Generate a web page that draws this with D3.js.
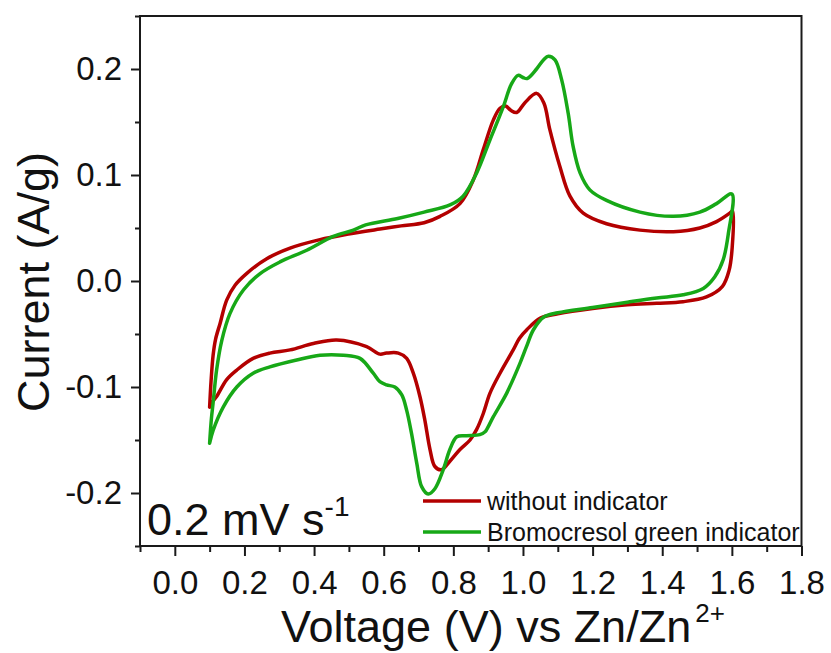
<!DOCTYPE html>
<html>
<head>
<meta charset="utf-8">
<script src="https://cdn.jsdelivr.net/npm/d3@7/dist/d3.min.js"></script>
<style>
  html, body { margin: 0; padding: 0; background: #fff; }
  svg { display: block; font-family: "Liberation Sans", Arial, sans-serif; }
</style>
</head>
<body>
<svg id="chart" width="831" height="653"></svg>
<script>
// ---- Data ----
const seriesNames = ["without indicator", "Bromocresol green indicator"];
const seriesColors = ["#b30000", "#17a817"];

// without indicator: voltage (V) and current (A/g), traced as one closed CV loop
const redV = [0.100,0.104,0.110,0.117,0.130,0.149,0.173,0.206,0.264,0.331,0.417,0.494,0.589,0.650,0.716,0.762,0.819,0.857,0.886,0.915,0.934,0.950,0.965,0.982,1.005,1.039,1.060,1.077,1.106,1.135,1.173,1.240,1.336,1.432,1.508,1.556,1.594,1.602,
  1.601,1.592,1.573,1.527,1.460,1.384,1.300,1.200,1.100,1.050,1.011,0.990,0.972,0.934,0.905,0.886,0.867,0.848,0.819,0.790,0.766,0.747,0.733,0.718,0.704,0.685,0.666,0.642,0.608,0.589,0.551,0.465,0.398,0.331,0.273,0.225,0.178,0.149,0.120,0.106,0.100];
const redI = [-0.119,-0.095,-0.070,-0.055,-0.040,-0.018,-0.004,0.007,0.021,0.031,0.039,0.044,0.049,0.052,0.055,0.061,0.073,0.095,0.124,0.152,0.163,0.165,0.161,0.159,0.168,0.177,0.168,0.143,0.108,0.080,0.064,0.054,0.048,0.0465,0.050,0.056,0.064,0.066,
  0.032,0.010,-0.005,-0.015,-0.0195,-0.021,-0.0225,-0.026,-0.031,-0.035,-0.046,-0.054,-0.065,-0.087,-0.106,-0.125,-0.140,-0.150,-0.159,-0.170,-0.178,-0.175,-0.159,-0.131,-0.109,-0.087,-0.073,-0.068,-0.068,-0.069,-0.062,-0.0557,-0.059,-0.065,-0.068,-0.073,-0.084,-0.093,-0.109,-0.115,-0.119];

// Bromocresol green indicator
const greenV = [0.100,0.105,0.110,0.120,0.135,0.158,0.197,0.245,0.302,0.379,0.455,0.513,0.548,0.640,0.716,0.792,0.828,0.867,0.905,0.943,0.967,0.986,1.000,1.012,1.039,1.060,1.073,1.092,1.111,1.130,1.144,1.164,1.192,1.240,1.336,1.432,1.508,1.556,1.600,
  1.590,1.575,1.551,1.518,1.460,1.384,1.300,1.200,1.100,1.060,1.030,1.010,0.991,0.953,0.915,0.896,0.892,0.876,0.838,0.810,0.790,0.771,0.747,0.728,0.709,0.695,0.680,0.666,0.652,0.632,0.608,0.589,0.570,0.532,0.484,0.417,0.350,0.273,0.225,0.178,0.139,0.110,0.100];
const greenI = [-0.153,-0.130,-0.115,-0.084,-0.056,-0.031,-0.0085,0.007,0.018,0.029,0.042,0.048,0.053,0.059,0.065,0.072,0.080,0.102,0.133,0.164,0.186,0.194,0.192,0.191,0.200,0.209,0.212,0.2085,0.190,0.158,0.127,0.102,0.086,0.076,0.065,0.061,0.065,0.073,0.082,
  0.045,0.020,0.004,-0.007,-0.013,-0.016,-0.020,-0.025,-0.030,-0.034,-0.046,-0.062,-0.078,-0.106,-0.128,-0.140,-0.142,-0.145,-0.146,-0.147,-0.159,-0.178,-0.196,-0.201,-0.194,-0.172,-0.144,-0.122,-0.1075,-0.100,-0.098,-0.095,-0.087,-0.073,-0.070,-0.070,-0.0745,-0.081,-0.087,-0.100,-0.119,-0.141,-0.153];

const xMajorTicks = [0.0,0.2,0.4,0.6,0.8,1.0,1.2,1.4,1.6,1.8];
const xMinorTicks = [-0.1,0.1,0.3,0.5,0.7,0.9,1.1,1.3,1.5,1.7];
const yMajorTicks = [-0.2,-0.1,0.0,0.1,0.2];
const yMinorTicks = [-0.25,-0.15,-0.05,0.05,0.15,0.25];

// ---- Layout ----
const svg = d3.select("#chart");
const L = 140, R = 801.5, T = 16, B = 546;
const x = d3.scaleLinear().domain([-0.1, 1.8]).range([L, R]);
const y = d3.scaleLinear().domain([-0.25, 0.25]).range([B, T]);
const axisColor = "#1a1a1a";
const fmt = d => d3.format(".1f")(d).replace("\u2212", "-");

// curves
const seriesData = [
  d3.zip(redV, redI),
  d3.zip(greenV, greenI)
];
const line = d3.line().x(d => x(d[0])).y(d => y(d[1])).curve(d3.curveCatmullRom.alpha(0.5));
svg.append("g").selectAll("path").data(seriesData).join("path")
  .attr("d", line)
  .attr("fill", "none")
  .attr("stroke", (d, i) => seriesColors[i])
  .attr("stroke-width", 3.5)
  .attr("stroke-linejoin", "round")
  .attr("stroke-linecap", "round");

// axes
function styleAxis(g) {
  g.select(".domain").remove();
  g.selectAll("line").attr("stroke", axisColor).attr("stroke-width", 2);
  g.selectAll("text").attr("fill", "#111").attr("font-size", "33px")
    .attr("font-family", "'Liberation Sans', Arial, sans-serif");
}
const xAxis = d3.axisBottom(x).tickValues(xMajorTicks).tickSize(10).tickPadding(15)
  .tickFormat(fmt).tickSizeOuter(0);
svg.append("g").attr("transform", `translate(0,${B})`).call(xAxis).call(styleAxis);
const xMinor = d3.axisBottom(x).tickValues(xMinorTicks).tickSize(6).tickFormat("").tickSizeOuter(0);
svg.append("g").attr("transform", `translate(0,${B})`).call(xMinor).call(styleAxis);

const yAxis = d3.axisLeft(y).tickValues(yMajorTicks).tickSize(9).tickPadding(9)
  .tickFormat(fmt).tickSizeOuter(0);
svg.append("g").attr("transform", `translate(${L},0)`).call(yAxis).call(styleAxis);
const yMinor = d3.axisLeft(y).tickValues(yMinorTicks).tickSize(5).tickFormat("").tickSizeOuter(0);
svg.append("g").attr("transform", `translate(${L},0)`).call(yMinor).call(styleAxis);

// frame
svg.append("rect").attr("x", L).attr("y", T).attr("width", R - L).attr("height", B - T)
  .attr("fill", "none").attr("stroke", axisColor).attr("stroke-width", 2);

// axis titles
const xt = svg.append("text").attr("x", 281).attr("y", 642)
  .attr("font-size", "45px").attr("fill", "#111");
xt.append("tspan").text("Voltage (V) vs Zn/Zn");
xt.append("tspan").attr("font-size", "26px").attr("dx", 4).attr("dy", -20).text("2+");

svg.append("text")
  .attr("transform", `translate(49,${(T + B) / 2 + 1}) rotate(-90)`)
  .attr("text-anchor", "middle")
  .attr("font-size", "45px").attr("fill", "#111")
  .text("Current (A/g)");

// scan-rate annotation
const ann = svg.append("text").attr("x", 147).attr("y", 535)
  .attr("font-size", "45px").attr("fill", "#111");
ann.append("tspan").text("0.2 mV s");
ann.append("tspan").attr("font-size", "28px").attr("dy", -19).text("-1");

// legend
const leg = svg.append("g");
const legY = [501, 532];
seriesNames.forEach((name, i) => {
  leg.append("line").attr("x1", 423).attr("x2", 481).attr("y1", legY[i]).attr("y2", legY[i])
    .attr("stroke", seriesColors[i]).attr("stroke-width", 3.5);
  leg.append("text").attr("x", 487).attr("y", legY[i] + 8.5)
    .attr("font-size", "25px").attr("fill", "#111").text(name);
});
</script>
</body>
</html>
